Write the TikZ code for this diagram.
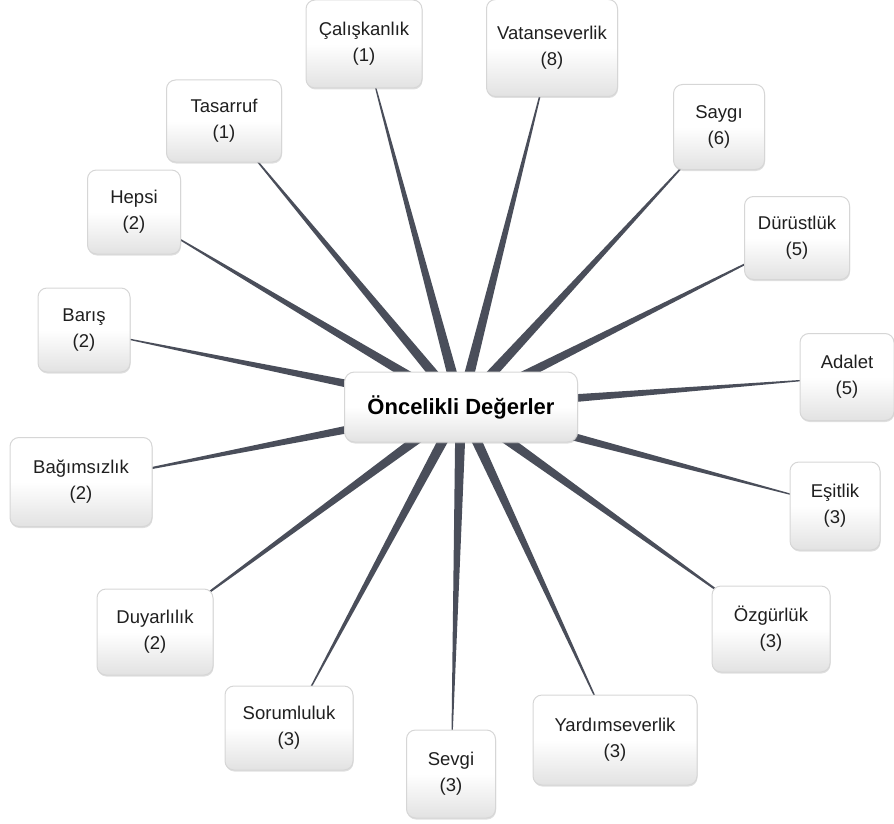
\documentclass[tikz,border=0pt]{standalone}
\usepackage{fontspec}
\setmainfont{Liberation Sans}
\usetikzlibrary{calc, shadows, backgrounds}

\definecolor{spokegray}{HTML}{4A4E5A}
\definecolor{boxline}{HTML}{D6D6D6}
\definecolor{boxbottom}{HTML}{E2E2E2}

\tikzset{
  boxlook/.style={draw=boxline, line width=1pt, rounded corners=9pt,
    top color=white, bottom color=boxbottom, middle color=white,
    drop shadow={shadow xshift=0.5pt, shadow yshift=-1.5pt, opacity=0.35, fill=black!35}},
  valuebox/.style 2 args={boxlook, minimum width=#1, minimum height=#2, align=center,
    text=black!88, font=\fontsize{18.5}{26}\selectfont},
  centerbox/.style={boxlook, rounded corners=10pt, minimum width=233, minimum height=70,
    font=\bfseries\fontsize{22}{26}\selectfont},
  spoke/.style={fill=spokegray}
}

\begin{document}
\begin{tikzpicture}[x=1pt, y=-1pt]
\useasboundingbox (0,0) rectangle (894,824);

\node[centerbox] (c) at (461,407) {Öncelikli Değerler};

\node[valuebox={116}{88}] (cal) at (364,44) {Çalışkanlık\\(1)};
\node[valuebox={131}{97}] (vat) at (552,48) {Vatanseverlik\\(8)};
\node[valuebox={115}{82}] (tas) at (224,121) {Tasarruf\\(1)};
\node[valuebox={91}{85}] (say) at (719,127) {Saygı\\(6)};
\node[valuebox={93}{84}] (hep) at (134,212) {Hepsi\\(2)};
\node[valuebox={105}{83}] (dur) at (797,238) {Dürüstlük\\(5)};
\node[valuebox={92}{84}] (bar) at (84,330) {Barış\\(2)};
\node[valuebox={94}{87}] (ada) at (847,377) {Adalet\\(5)};
\node[valuebox={142}{89}] (bag) at (81,482) {Bağımsızlık\\(2)};
\node[valuebox={90}{88}] (esi) at (835,506) {Eşitlik\\(3)};
\node[valuebox={116}{86}] (duy) at (155,632) {Duyarlılık\\(2)};
\node[valuebox={118}{86}] (ozg) at (771,629) {Özgürlük\\(3)};
\node[valuebox={128}{84}] (sor) at (289,728) {Sorumluluk\\(3)};
\node[valuebox={89}{88}] (sev) at (451,774) {Sevgi\\(3)};
\node[valuebox={164}{90}] (yar) at (615,740) {Yardımseverlik\\(3)};

% tapered spokes, hidden under the boxes at both ends
\begin{scope}[on background layer]
\foreach \n in {cal,vat,tas,say,hep,dur,bar,ada,bag,esi,duy,ozg,sor,sev,yar} {
  \fill[spoke] ($(c.center)!5.5pt!90:(\n.center)$) -- (\n.center)
    -- ($(c.center)!5.5pt!-90:(\n.center)$) -- cycle;
}
\end{scope}

\end{tikzpicture}
\end{document}
